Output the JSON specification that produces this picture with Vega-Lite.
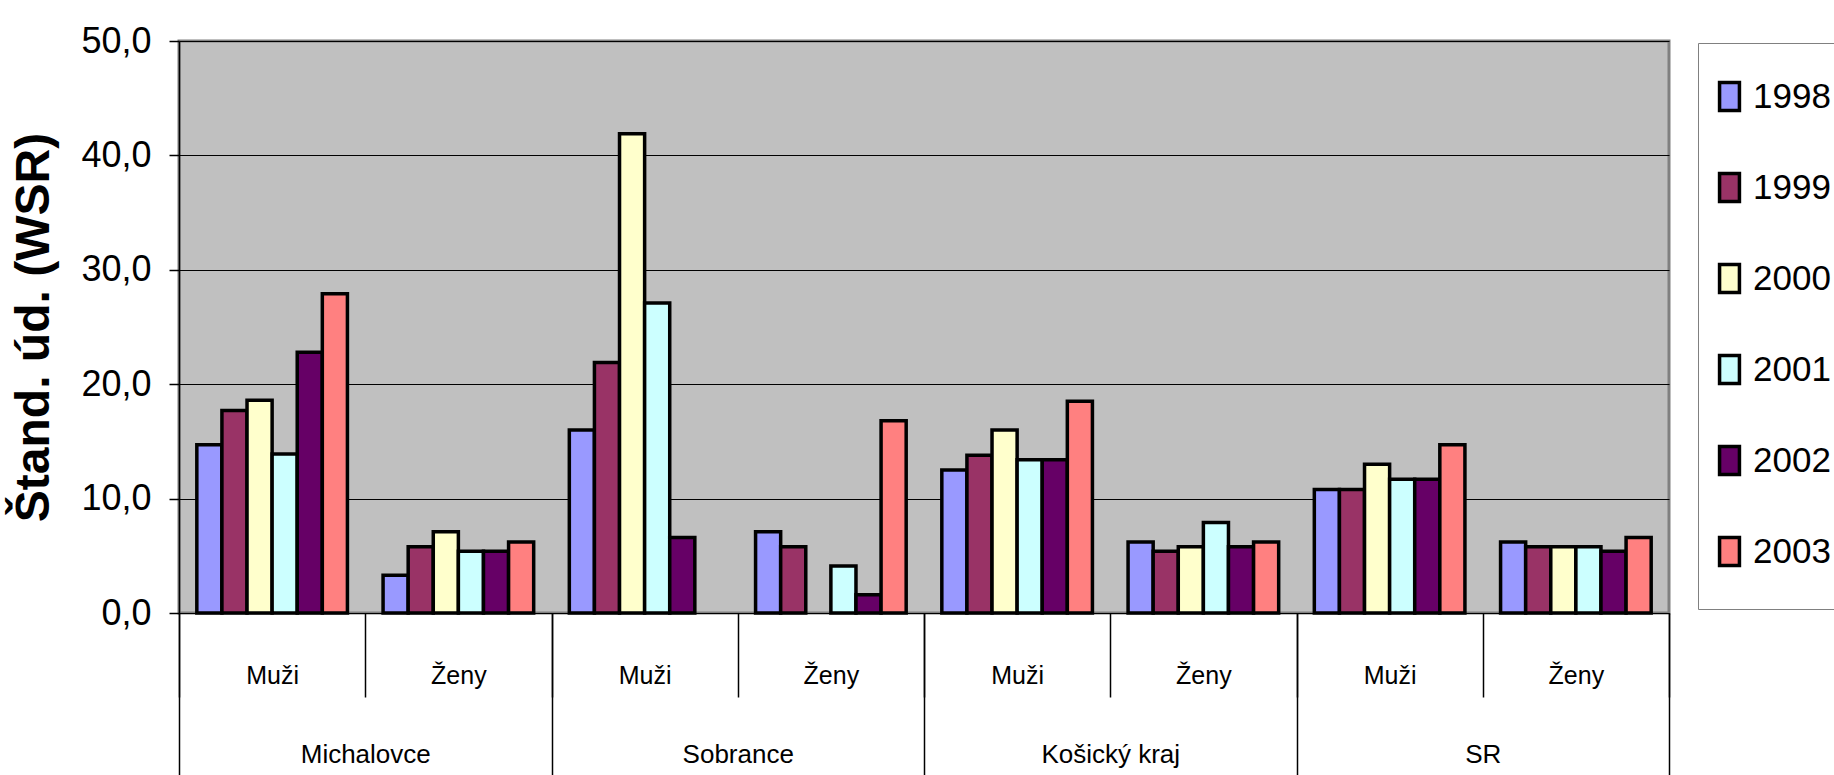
{
  "$schema": "https://vega.github.io/schema/vega-lite/v6.json",
  "autosize": {"type": "none"},
  "padding": {"left": 179, "top": 41, "right": 165, "bottom": 162},
  "width": 1490,
  "height": 572,
  "background": "white",
  "config": {
    "view": {"fill": "#C0C0C0", "stroke": "#808080", "strokeWidth": 3},
    "font": "Liberation Sans, Arial, sans-serif"
  },
  "data": {
    "values": [
      {"region": "Michalovce", "sex": "Muži", "year": "1998", "value": 14.7},
      {"region": "Michalovce", "sex": "Muži", "year": "1999", "value": 17.7},
      {"region": "Michalovce", "sex": "Muži", "year": "2000", "value": 18.6},
      {"region": "Michalovce", "sex": "Muži", "year": "2001", "value": 13.9},
      {"region": "Michalovce", "sex": "Muži", "year": "2002", "value": 22.8},
      {"region": "Michalovce", "sex": "Muži", "year": "2003", "value": 27.9},
      {"region": "Michalovce", "sex": "Ženy", "year": "1998", "value": 3.3},
      {"region": "Michalovce", "sex": "Ženy", "year": "1999", "value": 5.8},
      {"region": "Michalovce", "sex": "Ženy", "year": "2000", "value": 7.1},
      {"region": "Michalovce", "sex": "Ženy", "year": "2001", "value": 5.4},
      {"region": "Michalovce", "sex": "Ženy", "year": "2002", "value": 5.4},
      {"region": "Michalovce", "sex": "Ženy", "year": "2003", "value": 6.2},
      {"region": "Sobrance", "sex": "Muži", "year": "1998", "value": 16.0},
      {"region": "Sobrance", "sex": "Muži", "year": "1999", "value": 21.9},
      {"region": "Sobrance", "sex": "Muži", "year": "2000", "value": 41.9},
      {"region": "Sobrance", "sex": "Muži", "year": "2001", "value": 27.1},
      {"region": "Sobrance", "sex": "Muži", "year": "2002", "value": 6.6},
      {"region": "Sobrance", "sex": "Ženy", "year": "1998", "value": 7.1},
      {"region": "Sobrance", "sex": "Ženy", "year": "1999", "value": 5.8},
      {"region": "Sobrance", "sex": "Ženy", "year": "2001", "value": 4.1},
      {"region": "Sobrance", "sex": "Ženy", "year": "2002", "value": 1.6},
      {"region": "Sobrance", "sex": "Ženy", "year": "2003", "value": 16.8},
      {"region": "Košický kraj", "sex": "Muži", "year": "1998", "value": 12.5},
      {"region": "Košický kraj", "sex": "Muži", "year": "1999", "value": 13.8},
      {"region": "Košický kraj", "sex": "Muži", "year": "2000", "value": 16.0},
      {"region": "Košický kraj", "sex": "Muži", "year": "2001", "value": 13.4},
      {"region": "Košický kraj", "sex": "Muži", "year": "2002", "value": 13.4},
      {"region": "Košický kraj", "sex": "Muži", "year": "2003", "value": 18.5},
      {"region": "Košický kraj", "sex": "Ženy", "year": "1998", "value": 6.2},
      {"region": "Košický kraj", "sex": "Ženy", "year": "1999", "value": 5.4},
      {"region": "Košický kraj", "sex": "Ženy", "year": "2000", "value": 5.8},
      {"region": "Košický kraj", "sex": "Ženy", "year": "2001", "value": 7.9},
      {"region": "Košický kraj", "sex": "Ženy", "year": "2002", "value": 5.8},
      {"region": "Košický kraj", "sex": "Ženy", "year": "2003", "value": 6.2},
      {"region": "SR", "sex": "Muži", "year": "1998", "value": 10.8},
      {"region": "SR", "sex": "Muži", "year": "1999", "value": 10.8},
      {"region": "SR", "sex": "Muži", "year": "2000", "value": 13.0},
      {"region": "SR", "sex": "Muži", "year": "2001", "value": 11.7},
      {"region": "SR", "sex": "Muži", "year": "2002", "value": 11.7},
      {"region": "SR", "sex": "Muži", "year": "2003", "value": 14.7},
      {"region": "SR", "sex": "Ženy", "year": "1998", "value": 6.2},
      {"region": "SR", "sex": "Ženy", "year": "1999", "value": 5.8},
      {"region": "SR", "sex": "Ženy", "year": "2000", "value": 5.8},
      {"region": "SR", "sex": "Ženy", "year": "2001", "value": 5.8},
      {"region": "SR", "sex": "Ženy", "year": "2002", "value": 5.4},
      {"region": "SR", "sex": "Ženy", "year": "2003", "value": 6.6}
    ]
  },
  "transform": [{"calculate": "datum.region + '|' + datum.sex", "as": "grp"}],
  "layer": [
    {
      "mark": {"type": "bar", "stroke": "black", "strokeWidth": 3.5},
      "encoding": {
        "x": {
          "field": "grp",
          "type": "nominal",
          "sort": ["Michalovce|Muži", "Michalovce|Ženy", "Sobrance|Muži", "Sobrance|Ženy", "Košický kraj|Muži", "Košický kraj|Ženy", "SR|Muži", "SR|Ženy"],
          "scale": {"paddingInner": 0, "paddingOuter": 0},
          "axis": {
            "title": null,
            "orient": "bottom",
            "labelExpr": "split(datum.label, '|')[1]",
            "labelAngle": 0,
            "labelFontSize": 25,
            "labelColor": "black",
            "labelBaseline": "middle",
            "labelPadding": -22,
            "tickBand": "extent",
            "tickSize": 84,
            "tickColor": "black",
            "tickWidth": 1.5,
            "domainColor": "black",
            "domainWidth": 1,
            "grid": false
          }
        },
        "xOffset": {
          "field": "year",
          "type": "nominal",
          "scale": {"paddingInner": 0, "paddingOuter": 0.71}
        },
        "y": {
          "field": "value",
          "type": "quantitative",
          "scale": {"domain": [0, 50], "nice": false},
          "axis": {
            "title": "Štand. úd. (WSR)",
            "titleFont": "Liberation Sans, Arial, sans-serif",
            "titleFontWeight": "bold",
            "titleFontSize": 48,
            "titleColor": "black",
            "titleAngle": 270,
            "titleX": -145,
            "titleY": 286,
            "titleAlign": "center",
            "titleBaseline": "middle",
            "values": [0, 10, 20, 30, 40, 50],
            "labelExpr": "replace(format(datum.value, '.1f'), '.', ',')",
            "labelFontSize": 36,
            "labelColor": "black",
            "labelPadding": 18,
            "tickSize": 10,
            "tickColor": "black",
            "tickWidth": 1.5,
            "domainColor": "black",
            "domainWidth": 1.5,
            "grid": true,
            "gridColor": "black",
            "gridWidth": 1,
            "gridOpacity": 1
          }
        },
        "color": {
          "field": "year",
          "type": "nominal",
          "scale": {
            "domain": ["1998", "1999", "2000", "2001", "2002", "2003"],
            "range": ["#9999FF", "#993366", "#FFFFCC", "#CCFFFF", "#660066", "#FF8080"]
          },
          "legend": {
            "title": null,
            "orient": "none",
            "legendX": 1519,
            "legendY": 2,
            "direction": "vertical",
            "padding": 36,
            "strokeColor": "#808080",
            "fillColor": "white",
            "labelFontSize": 35,
            "labelColor": "black",
            "labelOffset": 6,
            "rowPadding": 48,
            "symbolType": "M-0.71,-1L0.71,-1L0.71,1L-0.71,1Z",
            "symbolSize": 784,
            "symbolStrokeColor": "black",
            "symbolStrokeWidth": 3.5,
            "symbolOpacity": 1,
            "symbolOffset": -22
          }
        }
      }
    },
    {
      "mark": {"type": "bar", "opacity": 0},
      "encoding": {
        "x": {
          "field": "region",
          "type": "nominal",
          "sort": ["Michalovce", "Sobrance", "Košický kraj", "SR"],
          "scale": {"paddingInner": 0, "paddingOuter": 0},
          "axis": {
            "title": null,
            "orient": "bottom",
            "labelAngle": 0,
            "labelFontSize": 26,
            "labelColor": "black",
            "labelBaseline": "middle",
            "labelPadding": -21,
            "tickBand": "extent",
            "tickSize": 162,
            "tickColor": "black",
            "tickWidth": 1.5,
            "domain": false,
            "grid": false
          }
        },
        "y": {"field": "value", "type": "quantitative"}
      }
    }
  ],
  "resolve": {"scale": {"x": "independent"}}
}
